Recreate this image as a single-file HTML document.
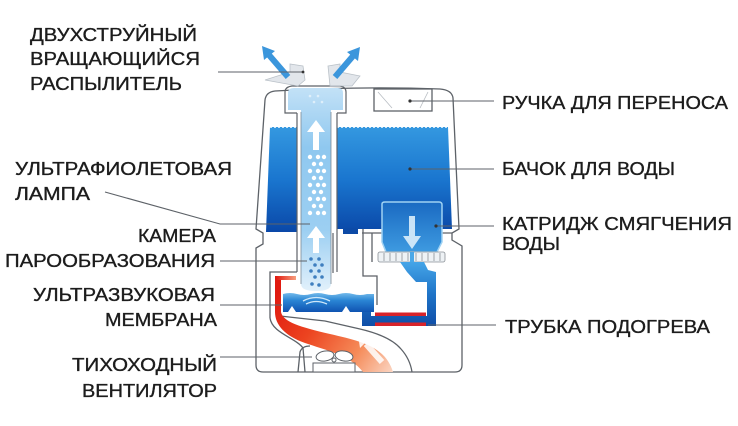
<!DOCTYPE html>
<html><head><meta charset="utf-8"><style>
html,body{margin:0;padding:0;background:#fff;}
svg{display:block;}
text{font-family:"Liberation Sans","DejaVu Sans",sans-serif;font-size:18px;fill:#1c1c1c;stroke:#1c1c1c;stroke-width:0.35px;}
</style></head><body>
<svg width="738" height="426" viewBox="0 0 738 426" xmlns="http://www.w3.org/2000/svg">
<defs>
<linearGradient id="tank" x1="0" y1="127" x2="0" y2="232" gradientUnits="userSpaceOnUse">
<stop offset="0" stop-color="#3498e0"/><stop offset="0.5" stop-color="#1a76cf"/><stop offset="1" stop-color="#0a48a8"/></linearGradient>
<linearGradient id="col" x1="0" y1="86" x2="0" y2="292" gradientUnits="userSpaceOnUse">
<stop offset="0" stop-color="#c4e2f7"/><stop offset="0.3" stop-color="#8fc8ef"/><stop offset="0.7" stop-color="#9ccff2"/><stop offset="1" stop-color="#e3f1fb"/></linearGradient>
<linearGradient id="cart" x1="0" y1="202" x2="0" y2="262" gradientUnits="userSpaceOnUse">
<stop offset="0" stop-color="#1a6ac2"/><stop offset="1" stop-color="#45a4e6"/></linearGradient>
<linearGradient id="pipe" x1="0" y1="262" x2="0" y2="326" gradientUnits="userSpaceOnUse">
<stop offset="0" stop-color="#45a5e8"/><stop offset="0.5" stop-color="#1f74c8"/><stop offset="1" stop-color="#0f4ea8"/></linearGradient>
<linearGradient id="water" x1="0" y1="292" x2="0" y2="313" gradientUnits="userSpaceOnUse">
<stop offset="0" stop-color="#7cc1ee"/><stop offset="0.4" stop-color="#2a85d4"/><stop offset="1" stop-color="#0d4fae"/></linearGradient>
<linearGradient id="air" x1="278" y1="290" x2="395" y2="372" gradientUnits="userSpaceOnUse">
<stop offset="0" stop-color="#e01a10"/><stop offset="0.35" stop-color="#ec4420"/><stop offset="0.7" stop-color="#f58a58"/><stop offset="1" stop-color="#fbd8c6"/></linearGradient>
<linearGradient id="redtop" x1="276" y1="0" x2="296" y2="0" gradientUnits="userSpaceOnUse">
<stop offset="0" stop-color="#e01a10"/><stop offset="1" stop-color="#f7a080"/></linearGradient>
</defs>

<!-- body outline -->
<g fill="none" stroke="#5d6268" stroke-width="1.3">
<path d="M256,229 L265,100 Q266,92 275,91 Q360,86 440,89 Q452,90 453,98 L459,229 L452,233 L452,240 L462,246 L462,365 Q462,372 455,372 L263,372 Q256,372 256,365 L256,248 L263,244 L263,233 Z"/>
<rect x="374" y="89" width="58" height="22"/>
<path d="M297,272 L270,272 L270,318"/>
<path d="M363,229 L363,276 L377,276 L377,305"/>
<path d="M372,233 L372,262"/>
<path d="M362,233 L382,233 M442,233 L452,233"/>
<path d="M270,318 C272,333 296,338 303,348 L305,372"/>
<path d="M280,316 L325,321 L360,329 Q390,336 401,349 Q410,359 412,372"/>
<path d="M298,372 L300,352 Q302,346 310,346"/>
</g>
<g fill="none" stroke="#b7bcc2" stroke-width="0.8">
<path d="M378,92 L392,108 M428,92 L420,108"/>
</g>

<!-- tank -->
<polygon points="270,127 297,127 297,232 266,232" fill="url(#tank)"/>
<polygon points="337,127 448,127 452,229 337,229" fill="url(#tank)"/>
<rect x="343" y="228" width="15" height="6" fill="#0c4aa6"/>
<path d="M270,127.5 L297,127.5 M337,127.5 L448,127.5" stroke="#cfe7f8" stroke-width="1" stroke-dasharray="2 2"/>

<!-- cartridge -->
<path d="M382,204 Q382,202 385,202 L439,202 Q442,202 442,205 L442,242 L437,252 L386,252 L382,242 Z" fill="url(#cart)" stroke="#9fd2f3" stroke-width="1.5"/>
<rect x="378" y="252" width="67" height="10" rx="2" fill="#eef2f5" stroke="#8a9096" stroke-width="0.8"/>
<g stroke="#8a9096" stroke-width="0.8">
<path d="M384,253 L384,261 M390,253 L390,261 M396,253 L396,261 M402,253 L402,261 M408,253 L408,261 M416,253 L416,261 M422,253 L422,261 M428,253 L428,261 M434,253 L434,261 M440,253 L440,261"/>
</g>
<rect x="410" y="252" width="4" height="10" fill="#4aa8e8"/>
<polygon points="409,216 415,216 415,236 421,236 412,249 403,236 409,236" fill="#dbeefb" opacity="0.9"/>
<path d="M400,262 L424,262 L428,270 L436,272 L436,326 L362,326 L362,305 L371,305 L371,316 L427,316 L427,282 L416,282 L407,272 Z" fill="url(#pipe)"/>
<rect x="375" y="312.5" width="51" height="3.5" fill="#d8232a"/>
<rect x="375" y="322.5" width="51" height="3.5" fill="#d8232a"/>

<!-- chamber water -->
<path d="M283,294 Q290,292 297,294 T311,294 T325,294 T339,294 T353,294 T367,294 L374,294 L374,312 L350,312 L346,306 L342,312 L296,312 L292,306 L288,312 L283,312 Z" fill="url(#water)"/>
<g fill="none" stroke="#cfe8fa" stroke-width="1.3">
<path d="M303,301 Q316,294 330,301"/><path d="M306,304 Q316,299 327,304"/>
</g>

<!-- airflow -->
<path d="M275,276 L294,276 L294,280 L281,280 L281,312 C283,322 300,327 330,334 C360,341 385,346 393,372 L363,372 C350,355 325,350 305,343 C285,336 275,325 275,312 Z" fill="url(#air)"/>
<rect x="275" y="276" width="21" height="4" fill="url(#redtop)"/>
<path d="M382,362 L366,344" stroke="#fff" stroke-width="6" opacity="0.85"/>
<polygon points="358,335 370,338 360,348" fill="#fff" opacity="0.85"/>

<!-- fan -->
<g fill="#fff" stroke="#5d6268" stroke-width="1">
<ellipse cx="325" cy="356" rx="9" ry="5" transform="rotate(-10 325 356)"/>
<ellipse cx="344" cy="356" rx="9" ry="5" transform="rotate(10 344 356)"/>
<circle cx="334" cy="360" r="2"/>
<rect x="313" y="363" width="42" height="9"/>
</g>

<!-- column -->
<g fill="none" stroke="#5d6268" stroke-width="1.2">
<path d="M297,113 L285,113 L285,92 Q285,87 292,86 L340,86 Q346,87 346,92 L346,113 L337,113"/>
<path d="M297,113 L297,272 M337,113 L337,272 M333,233 L333,273"/>
</g>
<path d="M288,110 L288,93 Q288,88 294,88 L338,88 Q343,88 343,93 L343,110 L331,110 L331,284 Q331,291 316,291 Q301,291 301,284 L301,110 Z" fill="url(#col)"/>
<g stroke="#7d8a96" stroke-width="0.8" fill="none"><path d="M301,112 L301,284 M331,112 L331,284"/></g>
<polygon points="316,120 325,132 319,132 319,150 313,150 313,132 307,132" fill="#fff"/>
<polygon points="316,226 325,238 319,238 319,253 313,253 313,238 307,238" fill="#fff"/>
<g fill="#fff">
<circle cx="310" cy="157" r="2.2"/><circle cx="318" cy="157" r="2.2"/><circle cx="324" cy="157" r="2.2"/>
<circle cx="314" cy="164" r="2.2"/><circle cx="321" cy="164" r="2.2"/>
<circle cx="310" cy="171" r="2.2"/><circle cx="318" cy="171" r="2.2"/><circle cx="324" cy="171" r="2.2"/>
<circle cx="314" cy="178" r="2.2"/><circle cx="321" cy="178" r="2.2"/>
<circle cx="310" cy="185" r="2.2"/><circle cx="318" cy="185" r="2.2"/><circle cx="324" cy="185" r="2.2"/>
<circle cx="314" cy="192" r="2.2"/><circle cx="321" cy="192" r="2.2"/>
<circle cx="310" cy="199" r="2.2"/><circle cx="318" cy="199" r="2.2"/><circle cx="324" cy="199" r="2.2"/>
<circle cx="314" cy="206" r="2.2"/><circle cx="321" cy="206" r="2.2"/>
<circle cx="310" cy="213" r="2.2"/><circle cx="318" cy="213" r="2.2"/><circle cx="324" cy="213" r="2.2"/>
</g>
<g fill="#3f7fbf">
<circle cx="311" cy="259" r="1.8"/><circle cx="319" cy="259" r="1.8"/>
<circle cx="315" cy="265" r="1.8"/><circle cx="322" cy="265" r="1.8"/>
<circle cx="311" cy="271" r="1.8"/><circle cx="319" cy="271" r="1.8"/>
<circle cx="315" cy="277" r="1.8"/><circle cx="322" cy="277" r="1.8"/>
<circle cx="312" cy="284" r="1.8"/><circle cx="319" cy="285" r="1.8"/>
</g>
<g fill="#e9f4fc" opacity="0.8">
<circle cx="310" cy="96" r="1.3"/><circle cx="318" cy="96" r="1.3"/><circle cx="314" cy="102" r="1.3"/><circle cx="322" cy="102" r="1.3"/>
</g>

<!-- nozzles -->
<g fill="#dfe4e9" stroke="#b3bbc3" stroke-width="0.8" opacity="0.9">
<path d="M265,80 L290,72 L290,64 L303,66 L305,80 L298,86 Z"/>
<path d="M328,66 L340,64 L340,72 L360,76 L352,86 L330,86 Z"/>
</g>
<path d="M288,77 L269,55" stroke="#3b96dc" stroke-width="6"/>
<polygon points="262,46 275,51 264,60" fill="#3b96dc"/>
<path d="M335,77 L353,56" stroke="#3b96dc" stroke-width="6"/>
<polygon points="360,47 358,61 347,52" fill="#3b96dc"/>

<!-- leader lines -->
<g stroke="#5d6268" stroke-width="1.1" fill="none">
<path d="M218,72 L303,72"/>
<path d="M105,192 L220,224 L310,224"/>
<path d="M220,261 L307,261"/>
<path d="M220,305 L282,305"/>
<path d="M220,357 L312,357"/>
<path d="M410,101 L494,101"/>
<path d="M410,169 L494,169"/>
<path d="M436,226 L494,226"/>
<path d="M428,325 L496,325"/>
</g>
<g fill="#333">
<circle cx="410" cy="101" r="1.6"/><circle cx="410" cy="169" r="1.6"/><circle cx="436" cy="226" r="1.6"/><circle cx="303" cy="72" r="1.4"/>
</g>

<!-- labels -->
<text x="30" y="41" textLength="167" lengthAdjust="spacingAndGlyphs">ДВУХСТРУЙНЫЙ</text>
<text x="30" y="65" textLength="170" lengthAdjust="spacingAndGlyphs">ВРАЩАЮЩИЙСЯ</text>
<text x="30" y="90" textLength="152" lengthAdjust="spacingAndGlyphs">РАСПЫЛИТЕЛЬ</text>
<text x="15" y="175" textLength="217" lengthAdjust="spacingAndGlyphs">УЛЬТРАФИОЛЕТОВАЯ</text>
<text x="15" y="200" textLength="75" lengthAdjust="spacingAndGlyphs">ЛАМПА</text>
<text x="138" y="242" textLength="78" lengthAdjust="spacingAndGlyphs">КАМЕРА</text>
<text x="5" y="267" textLength="210" lengthAdjust="spacingAndGlyphs">ПАРООБРАЗОВАНИЯ</text>
<text x="33" y="301" textLength="182" lengthAdjust="spacingAndGlyphs">УЛЬТРАЗВУКОВАЯ</text>
<text x="105" y="326" textLength="112" lengthAdjust="spacingAndGlyphs">МЕМБРАНА</text>
<text x="72" y="371" textLength="145" lengthAdjust="spacingAndGlyphs">ТИХОХОДНЫЙ</text>
<text x="82" y="397" textLength="135" lengthAdjust="spacingAndGlyphs">ВЕНТИЛЯТОР</text>
<text x="502" y="109" textLength="226" lengthAdjust="spacingAndGlyphs">РУЧКА ДЛЯ ПЕРЕНОСА</text>
<text x="502" y="175" textLength="173" lengthAdjust="spacingAndGlyphs">БАЧОК ДЛЯ ВОДЫ</text>
<text x="502" y="230" textLength="230" lengthAdjust="spacingAndGlyphs">КАТРИДЖ СМЯГЧЕНИЯ</text>
<text x="502" y="250" textLength="58" lengthAdjust="spacingAndGlyphs">ВОДЫ</text>
<text x="505" y="333" textLength="205" lengthAdjust="spacingAndGlyphs">ТРУБКА ПОДОГРЕВА</text>
</svg>
</body></html>
